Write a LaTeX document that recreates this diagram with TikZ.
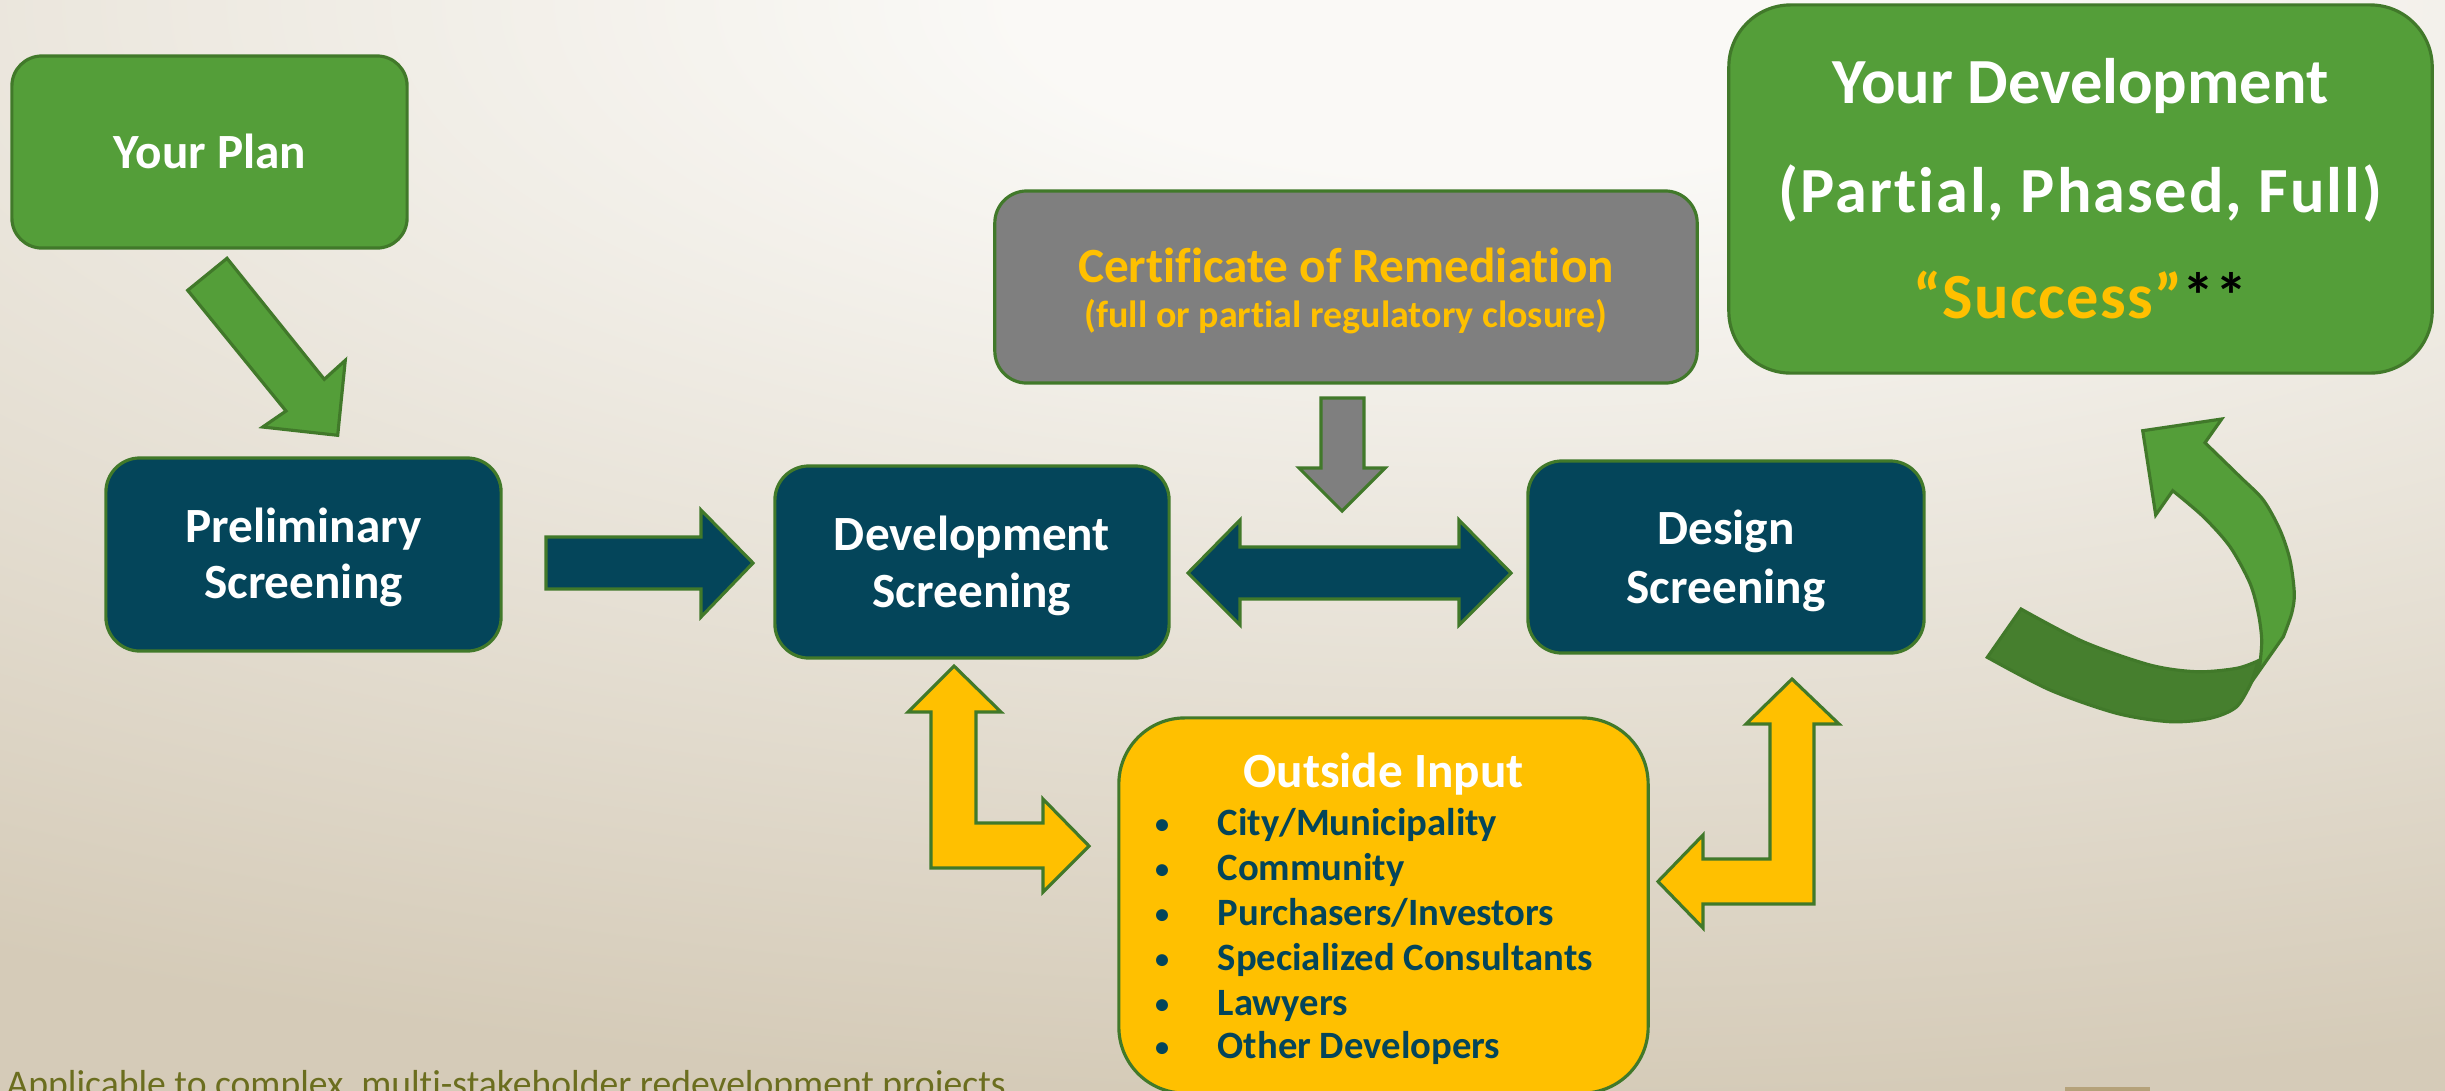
\documentclass[tikz,border=0pt]{standalone}
\usepackage{fontspec}
\setmainfont{Carlito}[Ligatures={NoCommon}]
\definecolor{grn}{HTML}{549E39}
\definecolor{grnd}{HTML}{467F2E}
\definecolor{edgegrn}{HTML}{41792A}
\definecolor{tealbx}{HTML}{04455A}
\definecolor{gry}{HTML}{7F7F7F}
\definecolor{ylw}{HTML}{FFC000}
\definecolor{olivetxt}{HTML}{6B6E1F}
\definecolor{bgin}{HTML}{FAF9F6}
\definecolor{bgout}{HTML}{D5CBB8}
\definecolor{brownbit}{HTML}{B5A27A}
\pgfdeclareradialshading{bgrad}{\pgfpointorigin}{color(0bp)=(bgin); color(4bp)=(bgin); color(25bp)=(bgout); color(50bp)=(bgout)}
\begin{document}
\begin{tikzpicture}[x=0.01cm,y=-0.01cm,
  boxbase/.style={draw=edgegrn,line width=0.9pt,inner sep=0pt,outer sep=0pt},
  blockarrow/.style={draw=edgegrn,line width=0.9pt,line join=miter},
  lbl/.style={anchor=base,inner sep=0pt,text=white,font=\fontsize{14}{16}\selectfont\bfseries},
  biglbl/.style={lbl,font=\fontsize{18.3}{21}\selectfont\bfseries},
  item/.style={anchor=base west,inner sep=0pt,text=tealbx,font=\fontsize{11}{13}\selectfont\bfseries},
  bullet/.style={anchor=base,inner sep=0pt,text=tealbx,font=\fontsize{8}{10}\selectfont\bfseries}]
\useasboundingbox (0,0) rectangle (2445,1090);
\begin{scope}
\clip (0,0) rectangle (2445,1090);
% background
\shade[shading=bgrad] (-1500,-1100) rectangle (4500,1100);

% boxes
\node[boxbase,fill=grn,rounded corners=0.3cm,minimum width=3.95cm,minimum height=1.92cm] (plan) at (209.5,152) {};
\node[boxbase,fill=tealbx,rounded corners=0.34cm,minimum width=3.95cm,minimum height=1.93cm] (prelim) at (303.5,554.5) {};
\node[boxbase,fill=tealbx,rounded corners=0.34cm,minimum width=3.94cm,minimum height=1.92cm] (dev) at (972,562) {};
\node[boxbase,fill=tealbx,rounded corners=0.34cm,minimum width=3.96cm,minimum height=1.92cm] (design) at (1726,557) {};
\node[boxbase,fill=gry,rounded corners=0.32cm,minimum width=7.02cm,minimum height=1.92cm] (cert) at (1346,287) {};
\node[boxbase,fill=grn,rounded corners=0.62cm,minimum width=7.03cm,minimum height=3.68cm] (succ) at (2080.5,189) {};
\node[boxbase,fill=ylw,rounded corners=0.66cm,minimum width=5.29cm,minimum height=3.75cm] (outside) at (1383.5,905.5) {};

% block arrows
\filldraw[blockarrow,fill=grn] (187.7,290.3) -- (227,258.3) -- (324.3,379.3) -- (345.3,360.3) -- (337.7,435.3) -- (262.7,427) -- (286,411) -- cycle;
\filldraw[blockarrow,fill=tealbx] (546,537) -- (701,537) -- (701,510) -- (753,563) -- (701,617) -- (701,589) -- (546,589) -- cycle;
\filldraw[blockarrow,fill=tealbx] (1188,573) -- (1240,520) -- (1240,547) -- (1459,547) -- (1459,520) -- (1511,573) -- (1459,625) -- (1459,599) -- (1240,599) -- (1240,625) -- cycle;
\filldraw[blockarrow,fill=gry] (1321,398) -- (1364,398) -- (1364,468) -- (1385,468) -- (1342,511) -- (1299,468) -- (1321,468) -- cycle;
\filldraw[blockarrow,fill=ylw] (954,666) -- (1001,712) -- (976,712) -- (976,823) -- (1043,823) -- (1043,799) -- (1089,846) -- (1043,892) -- (1043,868) -- (931,868) -- (931,712) -- (908,712) -- cycle;
\filldraw[blockarrow,fill=ylw] (1792,679) -- (1839,724) -- (1814,724) -- (1814,904) -- (1703,904) -- (1703,928) -- (1658,881.5) -- (1703,835) -- (1703,859) -- (1770,859) -- (1770,724) -- (1746,724) -- cycle;

% curved arrow: dark lower band
\filldraw[blockarrow,fill=grnd] (2021,609) -- plot[smooth] coordinates {(2021,609) (2083.3,641.7) (2150,665) (2196.7,671.7) (2236.7,668.3) (2258.3,660.7)} -- (2251.7,681.7) -- plot[smooth] coordinates {(2251.7,681.7) (2236.7,706.7) (2210,718.3) (2170,721.7) (2116.7,713.3) (2050,690) (1987.3,657.3)} -- cycle;
% curved arrow: light upper band with head
\filldraw[blockarrow,fill=grn] (2172.7,490.7) -- plot[smooth] coordinates {(2172.7,490.7) (2203.3,516.7) (2230,546.7) (2250,583.3) (2258.3,613.3) (2261.7,640) (2260,663.3)} -- (2251.7,681.7) -- (2283.3,636.7) -- plot[smooth] coordinates {(2283.3,636.7) (2291.7,613.3) (2294.3,593.3) (2290,560) (2280,530) (2263.3,500) (2240,476.7) (2205,442.7)} -- (2221.7,419) -- (2142.7,430.7) -- (2155.7,515) -- cycle;

% labels
\node[lbl] (plant) at (210,168) {Your Plan};
\node[lbl] (prelimta) at (303.5,542) {Preliminary};
\node[lbl] (prelimtb) at (303.5,598) {Screening};
\node[lbl] (devta) at (972,550) {Development};
\node[lbl] (devtb) at (972,607) {Screening};
\node[lbl] (desta) at (1726,544) {Design};
\node[lbl] (destb) at (1726,603) {Screening};
\node[lbl,text=ylw] (certta) at (1346,282) {Certificate of Remediation};
\node[lbl,text=ylw,font=\fontsize{10.8}{13}\selectfont\bfseries] (certtb) at (1346,327) {(full or partial regulatory closure)};
\node[biglbl] (succa) at (2080.5,103) {Your Development};
\node[biglbl,font=\fontsize{18.3}{21}\selectfont\bfseries\addfontfeatures{LetterSpace=3}] (succb) at (2080.5,212) {(Partial, Phased, Full)};
\node[biglbl,font=\fontsize{18.3}{21}\selectfont\bfseries\addfontfeatures{LetterSpace=2}] (succc) at (2080.5,318) {\textcolor{ylw}{“Success”}\textcolor{black}{**}};
\node[lbl] (outt) at (1383.5,787) {Outside Input};
\node[bullet] (ba) at (1162,833) {•};
\node[bullet] (bb) at (1162,878) {•};
\node[bullet] (bc) at (1162,923) {•};
\node[bullet] (bd) at (1162,968) {•};
\node[bullet] (be) at (1162,1013) {•};
\node[bullet] (bf) at (1162,1056) {•};
\node[item] (ia) at (1217,835) {City/Municipality};
\node[item] (ib) at (1217,880) {Community};
\node[item] (ic) at (1217,925) {Purchasers/Investors};
\node[item] (id) at (1217,970) {Specialized Consultants};
\node[item] (ie) at (1217,1015) {Lawyers};
\node[item] (if) at (1217,1058) {Other Developers};
\node[anchor=base west,inner sep=0pt,text=olivetxt,font=\fontsize{10.7}{13}\selectfont] (foot) at (6,1096) {Applicable to complex, multi-stakeholder redevelopment projects};
\fill[brownbit] (2065,1087) rectangle (2150,1092);
\end{scope}
\end{tikzpicture}
\end{document}
